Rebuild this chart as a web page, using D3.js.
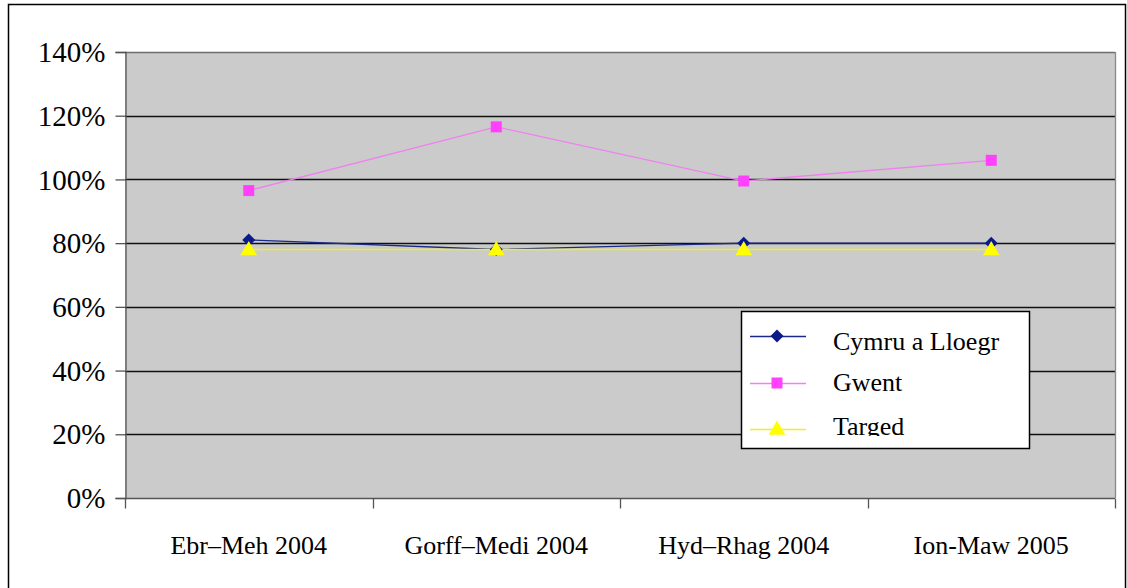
<!DOCTYPE html>
<html>
<head>
<meta charset="utf-8">
<title>line chart</title>
<style>
  body { margin: 0; background: #fff; }
  text { font-family: "Liberation Serif", "Times New Roman", serif; fill: #000; }
</style>
</head>
<body>
<script src="https://cdn.jsdelivr.net/npm/d3@7"></script>
<script>
// data
var categories = ["Ebr\u2013Meh 2004", "Gorff\u2013Medi 2004", "Hyd\u2013Rhag 2004", "Ion-Maw 2005"];
var cymru = [0.81, 0.78, 0.80, 0.80];
var gwent = [0.965, 1.165, 0.995, 1.06];
var targed = [0.78, 0.78, 0.78, 0.78];
var seriesNames = ["Cymru a Lloegr", "Gwent", "Targed"];
var yTicks = [0, 0.2, 0.4, 0.6, 0.8, 1.0, 1.2, 1.4];

var W = 1127, H = 588;
var plot = {left: 125, top: 52, right: 1115, bottom: 498};

var svg = d3.select("body").append("svg")
    .attr("width", W)
    .attr("height", H);

// outer chart border
svg.append("rect")
    .attr("x", 8.5).attr("y", 4.5)
    .attr("width", 1117).attr("height", 600)
    .attr("fill", "#fff")
    .attr("stroke", "#000")
    .attr("stroke-width", 1.5);

var x = d3.scaleBand()
    .domain(categories)
    .range([plot.left, plot.right]);

var y = d3.scaleLinear()
    .domain([0, 1.4])
    .range([plot.bottom, plot.top]);

// plot background
svg.append("rect")
    .attr("x", plot.left).attr("y", plot.top)
    .attr("width", plot.right - plot.left)
    .attr("height", plot.bottom - plot.top)
    .attr("fill", "#cbcbcb");

// gridlines
svg.append("g")
    .selectAll("line")
    .data(yTicks.slice(1))
    .enter().append("line")
    .attr("x1", plot.left).attr("x2", plot.right)
    .attr("y1", function (d) { return Math.round(y(d)) + 0.5; })
    .attr("y2", function (d) { return Math.round(y(d)) + 0.5; })
    .attr("stroke", function (d) { return d === 1.4 ? "#6e6e6e" : "#111"; })
    .attr("stroke-width", 1.3);

// plot right edge
svg.append("line")
    .attr("x1", plot.right + 0.5).attr("x2", plot.right + 0.5)
    .attr("y1", plot.top).attr("y2", plot.bottom)
    .attr("stroke", "#888").attr("stroke-width", 1.3);

// y axis
var yAxis = d3.axisLeft(y)
    .tickValues(yTicks)
    .tickFormat(d3.format(".0%"))
    .tickSize(10)
    .tickPadding(10);

var gy = svg.append("g")
    .attr("transform", "translate(" + (plot.left + 0.5) + ",0)")
    .call(yAxis);
gy.select(".domain").attr("stroke", "#555").attr("stroke-width", 1.3);
gy.selectAll(".tick line").attr("stroke", "#555").attr("stroke-width", 1.3);
gy.selectAll(".tick text")
    .attr("font-family", "Liberation Serif")
    .attr("font-size", 29)
    .attr("fill", "#000")
    .attr("dy", "0.33em");

// x axis: ticks at category boundaries, labels at centres
var gx = svg.append("g")
    .attr("transform", "translate(0," + (plot.bottom + 0.5) + ")");
gx.append("line")
    .attr("x1", plot.left).attr("x2", plot.right)
    .attr("stroke", "#555").attr("stroke-width", 1.3);
var bounds = categories.map(function (c) { return x(c); }).concat([x(categories[categories.length - 1]) + x.bandwidth()]);
gx.selectAll("line.tk")
    .data(bounds)
    .enter().append("line")
    .attr("class", "tk")
    .attr("x1", function (d) { return Math.round(d) + 0.5; })
    .attr("x2", function (d) { return Math.round(d) + 0.5; })
    .attr("y1", 0).attr("y2", 10)
    .attr("stroke", "#555").attr("stroke-width", 1.3);
gx.selectAll("text")
    .data(categories)
    .enter().append("text")
    .attr("x", function (d) { return x(d) + x.bandwidth() / 2; })
    .attr("y", 55)
    .attr("text-anchor", "middle")
    .attr("font-size", 26)
    .text(function (d) { return d; });

var cx = function (i) { return x(categories[i]) + x.bandwidth() / 2; };
var line = d3.line()
    .x(function (d, i) { return cx(i); })
    .y(function (d) { return y(d); });

// diamond = square turned 45 degrees
var series = [
    {name: seriesNames[0], values: cymru, line: "#1a2a8a", fill: "#0a1a8a", sym: d3.symbolSquare, size: 84, rot: 45, dy: 0},
    {name: seriesNames[1], values: gwent, line: "#f080f0", fill: "#ff40ff", sym: d3.symbolSquare, size: 121, rot: 0, dy: 0},
    {name: seriesNames[2], values: targed, line: "#f0f020", fill: "#ffff00", sym: d3.symbolTriangle, size: 120, rot: 0, dy: 1}
];

series.forEach(function (s) {
    svg.append("path")
        .datum(s.values)
        .attr("fill", "none")
        .attr("stroke", s.line)
        .attr("stroke-width", 1.3)
        .attr("d", line);
});
series.forEach(function (s) {
    svg.append("g")
        .selectAll("path")
        .data(s.values)
        .enter().append("path")
        .attr("transform", function (d, i) {
            return "translate(" + cx(i) + "," + (y(d) + s.dy) + ") rotate(" + s.rot + ")";
        })
        .attr("d", d3.symbol().type(s.sym).size(s.size))
        .attr("fill", s.fill);
});

// legend (clipped at bottom as in the original)
var lg = {x: 741, y: 311, w: 288, h: 137};
svg.append("clipPath").attr("id", "lgclip")
    .append("rect")
    .attr("x", lg.x).attr("y", lg.y)
    .attr("width", lg.w).attr("height", 125);

svg.append("rect")
    .attr("x", lg.x + 0.5).attr("y", lg.y + 0.5)
    .attr("width", lg.w).attr("height", lg.h)
    .attr("fill", "#fff")
    .attr("stroke", "#000")
    .attr("stroke-width", 1.5);

var legend = svg.append("g").attr("clip-path", "url(#lgclip)");
var rowY = [336, 383, 429];
var textY = [350, 391, 435];
series.forEach(function (s, i) {
    legend.append("line")
        .attr("x1", 750).attr("x2", 806)
        .attr("y1", rowY[i] + 0.5).attr("y2", rowY[i] + 0.5)
        .attr("stroke", s.line).attr("stroke-width", 1.3);
    legend.append("path")
        .attr("transform", "translate(777," + (rowY[i] + s.dy) + ") rotate(" + s.rot + ")")
        .attr("d", d3.symbol().type(s.sym).size(s.size))
        .attr("fill", s.fill);
    legend.append("text")
        .attr("x", 833)
        .attr("y", textY[i])
        .attr("font-size", 26)
        .text(s.name);
});
</script>
</body>
</html>
